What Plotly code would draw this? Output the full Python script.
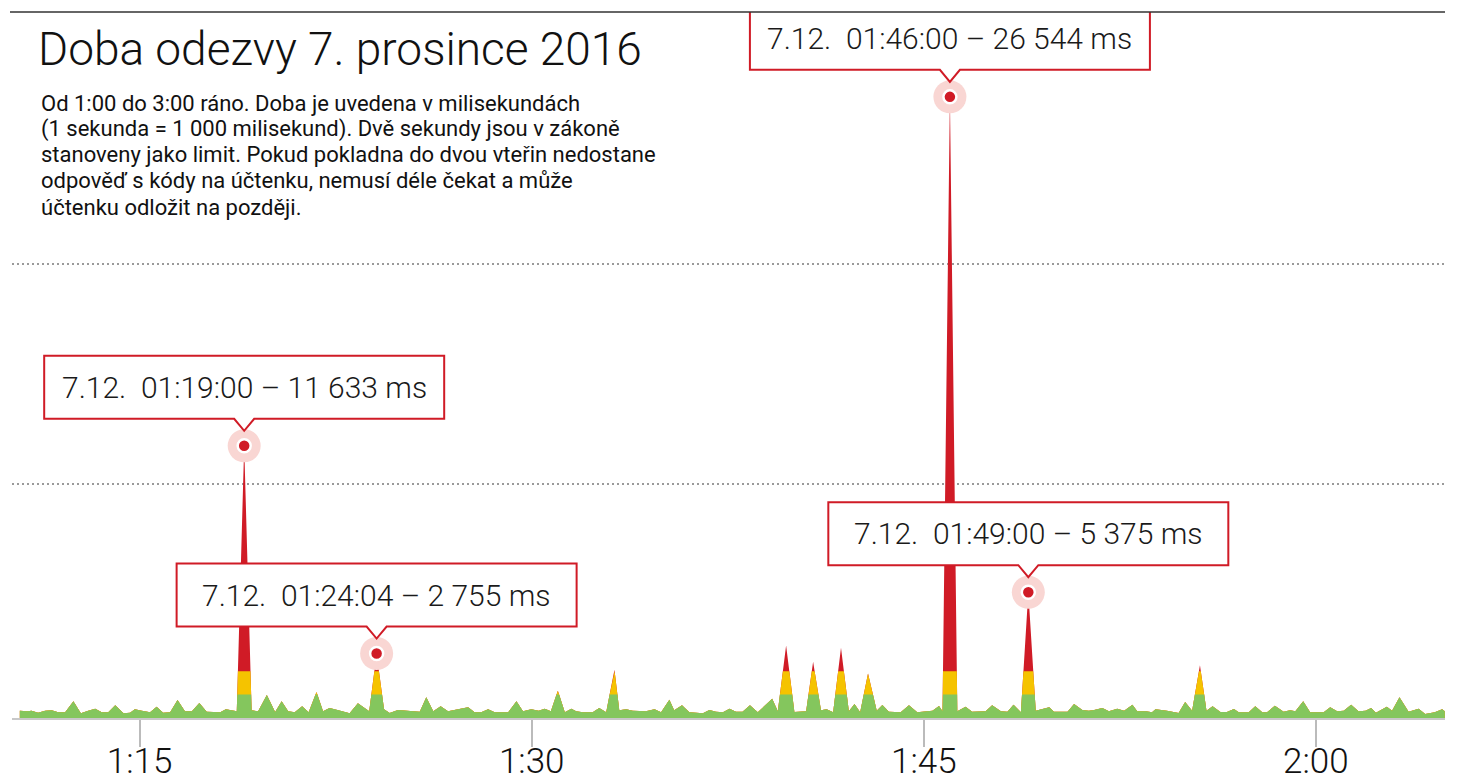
import numpy as np
import pandas as pd
import plotly.graph_objects as go

DAY = "2016-12-07"

# ---- series: response time samples (time of day, milliseconds) ----
times = [
    "01:10:25", "01:10:41", "01:10:52", "01:11:07", "01:11:23", "01:11:38", "01:11:53", "01:12:09",
    "01:12:28", "01:12:45", "01:13:02", "01:13:18", "01:13:33", "01:13:48", "01:14:04", "01:14:23",
    "01:14:38", "01:14:49", "01:15:05", "01:15:24", "01:15:39", "01:15:54", "01:16:10", "01:16:27",
    "01:16:44", "01:17:00", "01:17:17", "01:17:34", "01:17:49", "01:18:05", "01:18:18", "01:18:43",
    "01:19:00", "01:19:17", "01:19:32", "01:19:52", "01:20:11", "01:20:26", "01:20:41", "01:20:56",
    "01:21:13", "01:21:28", "01:21:46", "01:22:01", "01:22:16", "01:22:35", "01:23:02", "01:23:21",
    "01:23:47", "01:24:04", "01:24:21", "01:24:34", "01:24:53", "01:25:28", "01:25:43", "01:25:58",
    "01:26:14", "01:26:31", "01:26:48", "01:27:34", "01:27:49", "01:28:04", "01:28:20", "01:28:35",
    "01:29:06", "01:29:25", "01:29:40", "01:29:59", "01:30:16", "01:30:30", "01:30:44", "01:31:00",
    "01:31:16", "01:31:31", "01:31:42", "01:31:57", "01:32:20", "01:32:35", "01:32:51", "01:33:10",
    "01:33:21", "01:33:37", "01:33:52", "01:34:22", "01:34:42", "01:34:57", "01:35:16", "01:35:27",
    "01:35:45", "01:36:02", "01:36:33", "01:36:48", "01:37:03", "01:37:19", "01:37:34", "01:37:49",
    "01:38:04", "01:38:21", "01:38:39", "01:39:12", "01:39:25", "01:39:44", "01:40:03", "01:40:30",
    "01:40:46", "01:41:04", "01:41:17", "01:41:32", "01:41:50", "01:42:08", "01:42:21", "01:42:34",
    "01:42:52", "01:43:12", "01:43:25", "01:43:40", "01:44:07", "01:44:26", "01:44:45", "01:45:20",
    "01:45:35", "01:45:43", "01:46:00", "01:46:17", "01:46:36", "01:46:51", "01:47:22", "01:47:37",
    "01:47:57", "01:48:12", "01:48:26", "01:48:43", "01:49:00", "01:49:17", "01:49:48", "01:49:59",
    "01:50:30", "01:50:45", "01:51:04", "01:51:19", "01:51:31", "01:51:50", "01:52:05", "01:52:24",
    "01:52:40", "01:52:59", "01:53:10", "01:53:30", "01:53:44", "01:53:52", "01:54:18", "01:54:45",
    "01:55:00", "01:55:16", "01:55:34", "01:55:49", "01:56:03", "01:56:21", "01:56:36", "01:56:52",
    "01:57:03", "01:57:26", "01:57:41", "01:57:57", "01:58:08", "01:58:26", "01:58:46", "01:59:01",
    "01:59:13", "01:59:31", "01:59:47", "02:00:18", "02:00:33", "02:00:49", "02:01:04", "02:01:21",
    "02:01:38", "02:01:54", "02:02:07", "02:02:18", "02:02:43", "02:02:55", "02:03:12", "02:03:33",
    "02:03:56", "02:04:11", "02:04:33", "02:04:50", "02:04:56",
]
values_ms = [
    310, 285, 313, 228, 313, 327, 242, 242,
    712, 199, 313, 398, 242, 242, 541, 199,
    228, 370, 313, 242, 484, 228, 242, 769,
    285, 285, 640, 270, 256, 242, 370, 285,
    11633, 327, 285, 980, 256, 712, 285, 242,
    498, 242, 1110, 285, 427, 342, 199, 626,
    285, 2755, 370, 213, 342, 285, 270, 883,
    285, 498, 285, 455, 242, 242, 370, 242,
    242, 712, 285, 370, 313, 398, 285, 1167,
    242, 398, 285, 242, 242, 427, 242, 2064,
    327, 370, 313, 285, 370, 242, 783, 327,
    541, 242, 199, 342, 270, 242, 398, 270,
    270, 541, 242, 825, 285, 3100, 256, 285,
    2400, 327, 370, 242, 3000, 285, 598, 242,
    1900, 313, 555, 270, 242, 541, 242, 313,
    512, 285, 26544, 285, 484, 270, 285, 541,
    285, 270, 569, 242, 5375, 313, 455, 270,
    270, 598, 342, 313, 342, 427, 285, 398,
    313, 569, 285, 285, 242, 370, 313, 213,
    683, 313, 2250, 313, 498, 256, 256, 384,
    242, 242, 498, 242, 242, 527, 270, 327,
    285, 712, 242, 242, 455, 285, 313, 569,
    285, 313, 427, 228, 484, 313, 883, 270,
    398, 171, 242, 370, 285,
]

# colour bands (ms)
band_limits = [1000, 2000]

# highlighted peaks
callout_times = ["01:19:00", "01:24:04", "01:46:00", "01:49:00"]
callout_values = [11633, 2755, 26544, 5375]
callout_labels = [
    "7.12.\u00a0\u00a001:19:00 – 11\u00a0633 ms",
    "7.12.\u00a0\u00a001:24:04 – 2\u00a0755 ms",
    "7.12.\u00a0\u00a001:46:00 – 26\u00a0544 ms",
    "7.12.\u00a0\u00a001:49:00 – 5\u00a0375 ms",
]

tick_times = ["01:15:00", "01:30:00", "01:45:00", "02:00:00"]
tick_labels = ["1:15", "1:30", "1:45", "2:00"]
grid_values = [10000, 19400]

title_text = "Doba odezvy 7. prosince 2016"
subtitle_lines = [
    "Od 1:00 do 3:00 ráno. Doba je uvedena v milisekundách",
    "(1 sekunda = 1 000 milisekund). Dvě sekundy jsou v zákoně",
    "stanoveny jako limit. Pokud pokladna do dvou vteřin nedostane",
    "odpověď s kódy na účtenku, nemusí déle čekat a může",
    "účtenku odložit na později.",
]

GREEN = "#84c65d"
YELLOW = "#f5c300"
RED = "#d01b26"

# ---- split the polyline where it crosses the band limits ----
secs = np.array([pd.Timedelta(t).total_seconds() for t in times])
vals = np.array(values_ms, dtype=float)
xs, ys = [secs[0]], [vals[0]]
for i in range(1, len(secs)):
    x0, y0, x1, y1 = secs[i - 1], vals[i - 1], secs[i], vals[i]
    cross = []
    for lim in band_limits:
        if (y0 - lim) * (y1 - lim) < 0:
            cross.append((x0 + (lim - y0) / (y1 - y0) * (x1 - x0), lim))
    for c, lim in sorted(cross):
        xs.append(c)
        ys.append(lim)
    xs.append(x1)
    ys.append(y1)
xs = np.array(xs)
ys = np.array(ys)
xdates = pd.Timestamp(DAY) + pd.to_timedelta(xs, unit="s")


def ts(t):
    return f"{DAY} {t}"


fig = go.Figure()
fig.add_trace(go.Scatter(x=xdates, y=ys, mode="lines", line=dict(width=0),
                         fill="tozeroy", fillcolor=RED, hoverinfo="skip"))
fig.add_trace(go.Scatter(x=xdates, y=np.minimum(ys, band_limits[1]), mode="lines",
                         line=dict(width=0), fill="tozeroy", fillcolor=YELLOW, hoverinfo="skip"))
fig.add_trace(go.Scatter(x=xdates, y=np.minimum(ys, band_limits[0]), mode="lines",
                         line=dict(width=0), fill="tozeroy", fillcolor=GREEN, hoverinfo="skip"))

cx = [ts(t) for t in callout_times]
fig.add_trace(go.Scatter(x=cx, y=callout_values, mode="markers",
                         marker=dict(size=33, color="#f9d6d3"), hoverinfo="skip"))
fig.add_trace(go.Scatter(x=cx, y=callout_values, mode="markers",
                         marker=dict(size=13, color=RED, line=dict(color="white", width=2.5)),
                         hoverinfo="skip"))

shapes = []
annotations = []
box_path = "M -200 27 L -10 27 L 0 15 L 10 27 L 200 27 L 200 90 L -200 90 Z"
for t, v, lab in zip(cx, callout_values, callout_labels):
    shapes.append(dict(type="path", xref="x", yref="y", xsizemode="pixel", ysizemode="pixel",
                       xanchor=t, yanchor=v, path=box_path, fillcolor="white",
                       line=dict(color=RED, width=2), layer="above"))
    annotations.append(dict(x=t, y=v, xref="x", yref="y", text=lab, showarrow=False,
                            xanchor="center", yanchor="middle", yshift=58.5,
                            font=dict(family="Roboto", size=30, color="#1a1a1a", weight=300)))

# top rule
shapes.append(dict(type="line", xref="paper", yref="paper", x0=-0.0014, x1=1, y0=1, y1=1,
                   line=dict(color="#333333", width=1.5), layer="above"))

PW, PH, L, T = 1433, 706, 12, 12


def px(X):
    return (X - L) / PW


def py(Y):
    return (T + PH - Y) / PH


annotations.append(dict(x=px(36), y=py(48.5), xref="paper", yref="paper", text=title_text,
                        showarrow=False, xanchor="left", yanchor="middle",
                        font=dict(family="Roboto", size=46, color="#111111", weight=300)))
for i, line in enumerate(subtitle_lines):
    annotations.append(dict(x=px(39), y=py(103 + 26 * i), xref="paper", yref="paper",
                            text=line, align="left",
                            showarrow=False, xanchor="left", yanchor="middle",
                            font=dict(family="Roboto", size=22, color="#111111")))

fig.update_layout(
    width=1457, height=784,
    margin=dict(l=L, r=12, t=T, b=66, autoexpand=False),
    paper_bgcolor="white", plot_bgcolor="white",
    showlegend=False,
    shapes=shapes, annotations=annotations,
    xaxis=dict(type="date", range=[ts("01:10:07"), ts("02:04:56.5")],
               tickvals=[ts(t) for t in tick_times], ticktext=tick_labels,
               ticks="outside", ticklen=27, tickwidth=1.5, tickcolor="#bbbbbb",
               ticklabelstandoff=-16, automargin=False,
               showline=True, linecolor="#c8c8c8", linewidth=2,
               showgrid=False, zeroline=False,
               tickfont=dict(family="Roboto", size=35, color="#111111", weight=300)),
    yaxis=dict(range=[0, 30171], tickvals=grid_values, showticklabels=False,
               showgrid=True, gridcolor="#9a9a9a", gridwidth=2, griddash="2px,3px",
               zeroline=False, showline=False, ticks="", automargin=False),
)

fig.write_html("out.html", config={"displayModeBar": False},
               post_script="document.body.style.margin='0';")
